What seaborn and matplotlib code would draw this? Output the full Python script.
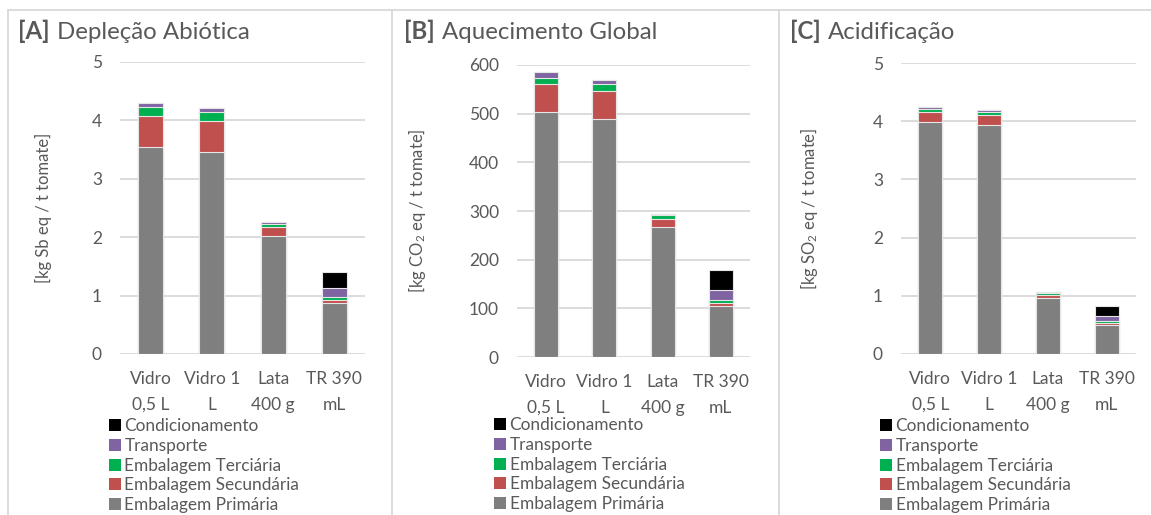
import numpy as np
import matplotlib
matplotlib.use("Agg")
import matplotlib.pyplot as plt
from matplotlib.patches import Patch
from matplotlib.lines import Line2D
import seaborn as sns

# ---- data -------------------------------------------------------------
categories = ["Vidro\n0,5 L", "Vidro 1\nL", "Lata\n400 g", "TR 390\nmL"]
components = ["Embalagem Primária", "Embalagem Secundária", "Embalagem Terciária",
              "Transporte", "Condicionamento"]
component_colors = ["#7F7F7F", "#C0504D", "#00B050", "#8064A2", "#000000"]

# [A] Depleção abiótica, kg Sb eq / t tomate
abiotic_primary = [3.55, 3.46, 2.02, 0.88]
abiotic_secondary = [0.53, 0.53, 0.15, 0.04]
abiotic_tertiary = [0.15, 0.15, 0.06, 0.06]
abiotic_transport = [0.07, 0.08, 0.03, 0.15]
abiotic_conditioning = [0.0, 0.0, 0.0, 0.28]

# [B] Aquecimento global, kg CO2 eq / t tomate
warming_primary = [503, 490, 267, 105]
warming_secondary = [57, 56, 17, 6]
warming_tertiary = [14, 14, 7, 6]
warming_transport = [11, 10, 3, 21]
warming_conditioning = [0, 0, 0, 40]

# [C] Acidificação, kg SO2 eq / t tomate
acid_primary = [3.99, 3.94, 0.96, 0.50]
acid_secondary = [0.17, 0.17, 0.05, 0.03]
acid_tertiary = [0.05, 0.05, 0.03, 0.04]
acid_transport = [0.04, 0.04, 0.02, 0.08]
acid_conditioning = [0.0, 0.0, 0.0, 0.18]

# ---- style ------------------------------------------------------------
sns.set_style("white")
plt.rcParams["font.family"] = ["Lato", "DejaVu Sans"]
plt.rcParams["mathtext.default"] = "regular"
TEXT = "#595959"
GRID = "#D9D9D9"

W, H = 1151, 515
fig = plt.figure(figsize=(W / 100, H / 100), dpi=100)


def px_box(left, top, right, bottom):
    return [left / W, 1 - bottom / H, (right - left) / W, (bottom - top) / H]


panels = [
    dict(tag="[A]", name="Depleção Abiótica", title_x=18,
         ylabel="[kg Sb eq / t tomate]", ymax=5, step=1,
         box=(120, 62, 365, 354), ylabel_x=52, legend_xy=(109, 418),
         layers=[abiotic_primary, abiotic_secondary, abiotic_tertiary,
                 abiotic_transport, abiotic_conditioning]),
    dict(tag="[B]", name="Aquecimento Global", title_x=404,
         ylabel="[kg CO$_2$ eq / t tomate]", ymax=600, step=100,
         box=(517, 65, 750, 357), ylabel_x=428, legend_xy=(494, 417),
         layers=[warming_primary, warming_secondary, warming_tertiary,
                 warming_transport, warming_conditioning]),
    dict(tag="[C]", name="Acidificação", title_x=790,
         ylabel="[kg SO$_2$ eq / t tomate]", ymax=5, step=1,
         box=(901, 63, 1136, 354), ylabel_x=820, legend_xy=(880, 418),
         layers=[acid_primary, acid_secondary, acid_tertiary,
                 acid_transport, acid_conditioning]),
]

# panel frames
for x in (8, 392, 779):
    fig.add_artist(Line2D([x / W, x / W], [0, 1 - 10 / H], color=GRID, lw=1.3))
fig.add_artist(Line2D([8 / W, 1], [1 - 10 / H, 1 - 10 / H], color=GRID, lw=1.3))

renderer = fig.canvas.get_renderer()

for p in panels:
    ax = fig.add_axes(px_box(*p["box"]))
    tops = np.cumsum(np.array(p["layers"], dtype=float), axis=0)
    # stacked bars: draw cumulative totals from the top layer down
    for level in range(len(components) - 1, -1, -1):
        sns.barplot(x=categories, y=tops[level], color=component_colors[level],
                    saturation=1, width=0.41, edgecolor="#E6E6E6", linewidth=0.8,
                    ax=ax, zorder=2)
    ax.set_ylim(0, p["ymax"])
    ax.set_xlim(-0.5, 3.5)
    ax.set_yticks(np.arange(0, p["ymax"] + p["step"] / 2, p["step"]))
    ax.set_xticks(range(len(categories)))
    ax.set_xticklabels(categories, linespacing=1.8)
    ax.yaxis.grid(True, color=GRID, lw=1.3, zorder=0)
    ax.set_axisbelow(True)
    for s in ax.spines.values():
        s.set_visible(False)
    ax.tick_params(axis="both", length=0, colors=TEXT, labelsize=12.5)
    ax.tick_params(axis="x", pad=12)
    ax.tick_params(axis="y", pad=13)
    ax.set_xlabel("")
    ax.set_ylabel(p["ylabel"], color=TEXT, fontsize=12)
    l, t, r, b = p["box"]
    ax.yaxis.set_label_coords((p["ylabel_x"] - l) / (r - l), 0.5)

    # title: bold tag followed by regular text
    ty = 1 - 39 / H
    t1 = fig.text(p["title_x"] / W, ty, p["tag"], fontsize=17.3, fontweight="bold",
                  color=TEXT, va="baseline")
    bb = t1.get_window_extent(renderer)
    fig.text((bb.x1 + 7) / W, ty, p["name"], fontsize=17.3, color=TEXT, va="baseline")

    # legend, last component on top
    handles = [Patch(facecolor=c, edgecolor="none") for c in component_colors[::-1]]
    lx, ly = p["legend_xy"]
    ax.legend(handles, components[::-1], loc="upper left",
              bbox_to_anchor=(lx / W, 1 - ly / H), bbox_transform=fig.transFigure,
              frameon=False, fontsize=12.4, labelcolor=TEXT, handlelength=0.7,
              handleheight=0.7, handletextpad=0.2, labelspacing=0.22,
              borderpad=0, borderaxespad=0)

fig.savefig("out.png", dpi=100)
